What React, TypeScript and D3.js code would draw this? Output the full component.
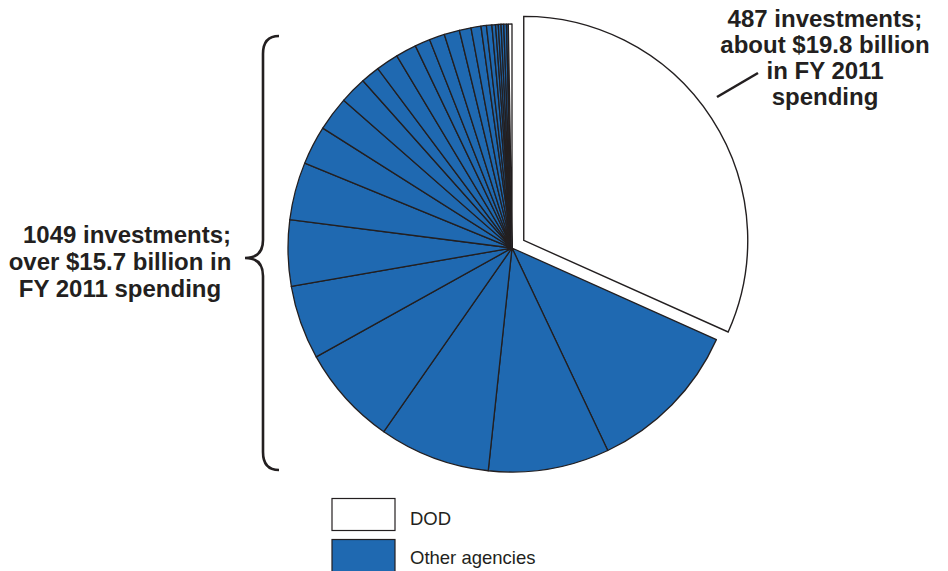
import React from "react";
import * as d3 from "d3";

const dodLabel = "DOD";
const otherLabel = "Other agencies";
const dodInvestments = 487;
// investments per other agency, read clockwise from the DOD slice
const otherAgencyInvestments = [173, 134, 123, 111, 82, 73, 64, 43, 38, 30, 21, 25, 23, 17, 17, 17, 13, 11, 6, 6, 4, 3, 3, 3, 3, 2, 4];
const dodText = ["487 investments;", "about $19.8 billion", "in FY 2011", "spending"];
const otherText = ["1049 investments;", "over $15.7 billion in", "FY 2011 spending"];

const BLUE = "#1f69b1";
const INK = "#231f20";

export default function App() {
  const cx = 512, cy = 248, r = 224, explode = 14;
  const values = [dodInvestments, ...otherAgencyInvestments];
  const pie = d3.pie<number>().sort(null).value((d) => d).startAngle(0).endAngle(2 * Math.PI);
  const arcs = pie(values);
  const arcGen = d3.arc<d3.PieArcDatum<number>>().innerRadius(0).outerRadius(r);
  const lastIdx = values.length - 1;

  const bracePath = (() => {
    const x = 263, top = 36, bot = 470, tipX = 245, tipY = 258;
    return `M279,${top} C268,${top} ${x},${top + 6} ${x},${top + 18} L${x},${tipY - 18} C${x},${tipY - 6} ${x - 6},${tipY} ${tipX},${tipY} C${x - 6},${tipY} ${x},${tipY + 6} ${x},${tipY + 18} L${x},${bot - 18} C${x},${bot - 6} 268,${bot} 279,${bot}`;
  })();

  const font = "'Liberation Sans', Arial, sans-serif";

  return (
    <svg width={948} height={571} style={{ position: "absolute", left: 0, top: 0, background: "#fff" }}>
      <g transform={`translate(${cx},${cy})`}>
        {arcs.map((a, i) => {
          if (i === 0) {
            const mid = (a.startAngle + a.endAngle) / 2;
            const dx = Math.sin(mid) * explode, dy = -Math.cos(mid) * explode;
            return (
              <path key={i} d={arcGen(a) || ""} transform={`translate(${dx},${dy})`} fill="#fff" stroke={INK} strokeWidth={1.4} strokeLinejoin="miter" />
            );
          }
          return (
            <path key={i} d={arcGen(a) || ""} fill={i === lastIdx ? "#fff" : BLUE} stroke={INK} strokeWidth={1.3} strokeLinejoin="round" />
          );
        })}
      </g>

      <path d={bracePath} fill="none" stroke={INK} strokeWidth={2.6} />
      <line x1={717} y1={97} x2={758} y2={73} stroke={INK} strokeWidth={2.6} />

      <g fontFamily={font} fontWeight="bold" fontSize={24} fill={INK} textAnchor="middle">
        {dodText.map((t, i) => (
          <text key={i} x={825} y={27 + i * 26}>{t}</text>
        ))}
        {otherText.map((t, i) => (
          <text key={i} x={i === 0 ? 127 : 120} y={243 + i * 26.8}>{t}</text>
        ))}
      </g>

      <g fontFamily={font} fontSize={18.5} fill={INK}>
        <rect x={332} y={498.5} width={63} height={32} fill="#fff" stroke={INK} strokeWidth={1.2} />
        <text x={410} y={524.5}>{dodLabel}</text>
        <rect x={332} y={539.5} width={63} height={40} fill={BLUE} stroke={INK} strokeWidth={1.2} />
        <text x={410} y={564}>{otherLabel}</text>
      </g>
    </svg>
  );
}
